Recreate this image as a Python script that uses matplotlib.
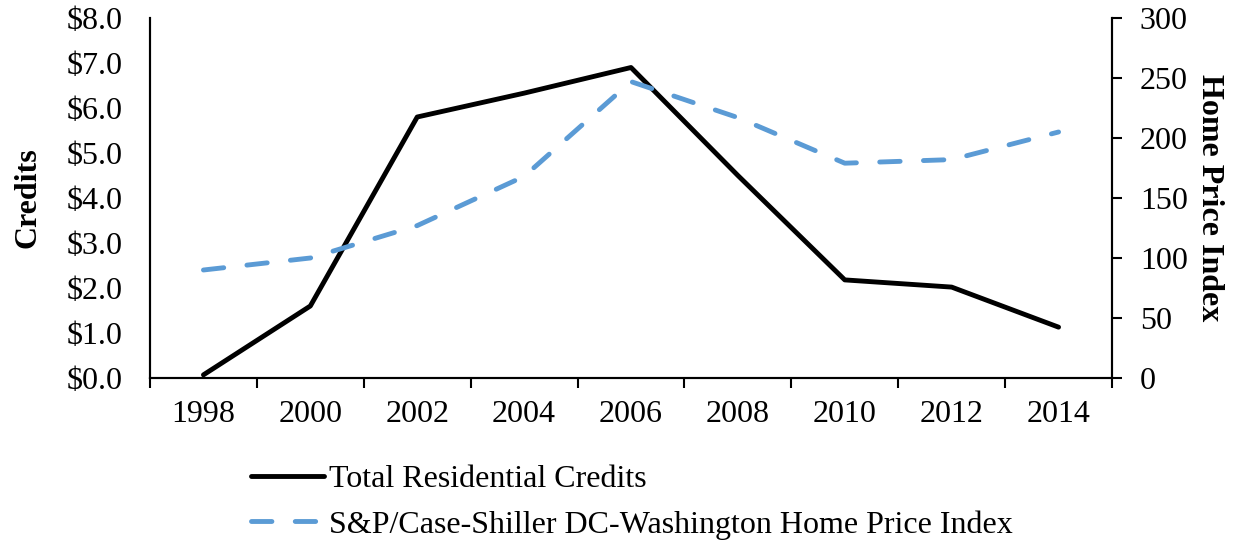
import numpy as np
import matplotlib.pyplot as plt

years = ['1998', '2000', '2002', '2004', '2006', '2008', '2010', '2012', '2014']
credits = [0.07, 1.6, 5.8, 6.33, 6.9, 4.5, 2.18, 2.02, 1.13]
hpi = [90, 100, 127, 168, 247, 217, 179, 182, 205]

credit_ticks = np.arange(0, 9, 1)
credit_labels = ['$%.1f' % v for v in credit_ticks]
hpi_ticks = np.arange(0, 301, 50)

plt.rcParams['font.family'] = ['Liberation Serif', 'DejaVu Serif']
plt.rcParams['font.size'] = 23

fig = plt.figure(figsize=(12.36, 5.44), dpi=100)
ax = fig.add_axes([150/1236, 1-378/544, (1112-150)/1236, 360/544])
ax2 = ax.twinx()

x = np.arange(len(years))
l1, = ax.plot(x, credits, color='black', lw=3.5, solid_capstyle='round',
              label='Total Residential Credits')
l2, = ax2.plot(x, hpi, color='#5B9BD5', lw=3.5, dash_capstyle='round',
               dashes=(4.2, 4.8), label='S&P/Case-Shiller DC-Washington Home Price Index')

ax.set_xlim(-0.5, len(years) - 0.5)
ax.set_ylim(0, 8)
ax2.set_ylim(0, 300)

# category boundaries as ticks, labels at centres
ax.set_xticks(np.arange(-0.5, len(years), 1))
ax.set_xticklabels([])
ax.set_xticks(x, minor=True)
ax.set_xticklabels(years, minor=True)
ax.tick_params(axis='x', which='major', length=7, width=1.5, direction='out')
ax.tick_params(axis='x', which='minor', length=0, pad=16)

ax.set_yticks(credit_ticks)
ax.set_yticklabels(credit_labels)
ax.tick_params(axis='y', length=0, pad=20)
ax2.set_yticks(hpi_ticks)
ax2.tick_params(axis='y', length=7, width=1.5, direction='out', pad=13)

for a in (ax, ax2):
    a.spines['top'].set_visible(False)
    for s in ('left', 'right', 'bottom'):
        a.spines[s].set_linewidth(1.5)

ax.set_ylabel('Credits', fontweight='bold', labelpad=17)
ax2.set_ylabel('Home Price Index', fontweight='bold', rotation=-90, labelpad=26)

fig.legend(handles=[l1, l2], loc='upper left', bbox_to_anchor=(238/1236, 1-452/544),
           frameon=False, handlelength=2.3, handletextpad=0.15, labelspacing=0.5,
           borderaxespad=0)

fig.savefig('out.png', dpi=100)
